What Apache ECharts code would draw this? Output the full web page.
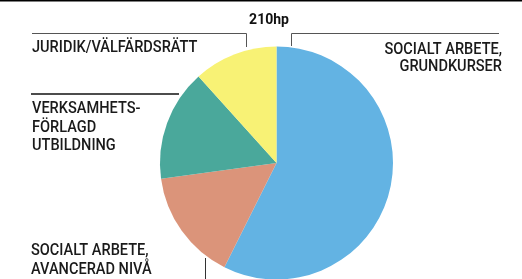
<!DOCTYPE html>
<html>
<head>
<meta charset="utf-8">
<script src="https://cdn.jsdelivr.net/npm/echarts@6/dist/echarts.min.js"></script>
<style>
html,body{margin:0;padding:0;background:#fff;}
#c{width:522px;height:279px;}
</style>
</head>
<body>
<div id="c"></div>
<script>
var categories = ['Socialt arbete, grundkurser', 'Socialt arbete, avancerad nivå', 'Verksamhetsförlagd utbildning', 'Juridik/välfärdsrätt'];
var values = [120.5, 32.5, 32.5, 24.5];
var totalLabel = '210hp';
var labelTexts = ['SOCIALT ARBETE,\nGRUNDKURSER', 'SOCIALT ARBETE,\nAVANCERAD NIVÅ', 'VERKSAMHETS-\nFÖRLAGD\nUTBILDNING', 'JURIDIK/VÄLFÄRDSRÄTT'];

var chart = echarts.init(document.getElementById('c'), null, {renderer: 'canvas'});
var FONT = 'Roboto, "Noto Sans", sans-serif';
var SX = 0.91;
function txt(text, x, y, align, lh) {
  return {
    type: 'text', x: x, y: y, scaleX: SX,
    style: {
      text: text, fill: '#1a1a1a',
      fontSize: 16, fontWeight: 500, fontFamily: FONT,
      align: align, verticalAlign: 'top', lineHeight: lh
    }
  };
}
function pl(points, color, w) {
  return { type: 'polyline', shape: { points: points }, style: { stroke: color, lineWidth: w, fill: null } };
}
var option = {
  animation: false,
  color: ['#63b3e3', '#db947a', '#4aa89b', '#f8f275'],
  series: [{
    type: 'pie',
    center: [276.5, 163],
    radius: [0, 116.5],
    startAngle: 90,
    clockwise: true,
    label: { show: false },
    labelLine: { show: false },
    itemStyle: { borderWidth: 0 },
    emphasis: { disabled: true },
    data: categories.map(function (c, i) { return { name: c, value: values[i] }; })
  }],
  graphic: [
    pl([[0, 0.75], [522, 0.75]], '#000', 1.5),
    { type: 'text', x: 269, y: 20, style: { text: totalLabel, fill: '#111', fontSize: 14, fontWeight: 'bold', fontFamily: FONT, align: 'center', verticalAlign: 'middle' } },
    pl([[32, 33.5], [246.5, 33.5], [246.5, 47]], '#555', 1),
    pl([[499, 33.5], [291.5, 33.5], [291.5, 46]], '#555', 1),
    pl([[31, 94], [179, 94]], '#111', 1.5),
    pl([[205.5, 258], [205.5, 279]], '#333', 1),
    txt(labelTexts[3], 32, 39, 'left', 17),
    txt(labelTexts[0], 502, 41.5, 'right', 17),
    txt(labelTexts[2], 32, 100, 'left', 18.5),
    txt(labelTexts[1], 31, 241.5, 'left', 19)
  ]
};
chart.setOption(option);
</script>
</body>
</html>
